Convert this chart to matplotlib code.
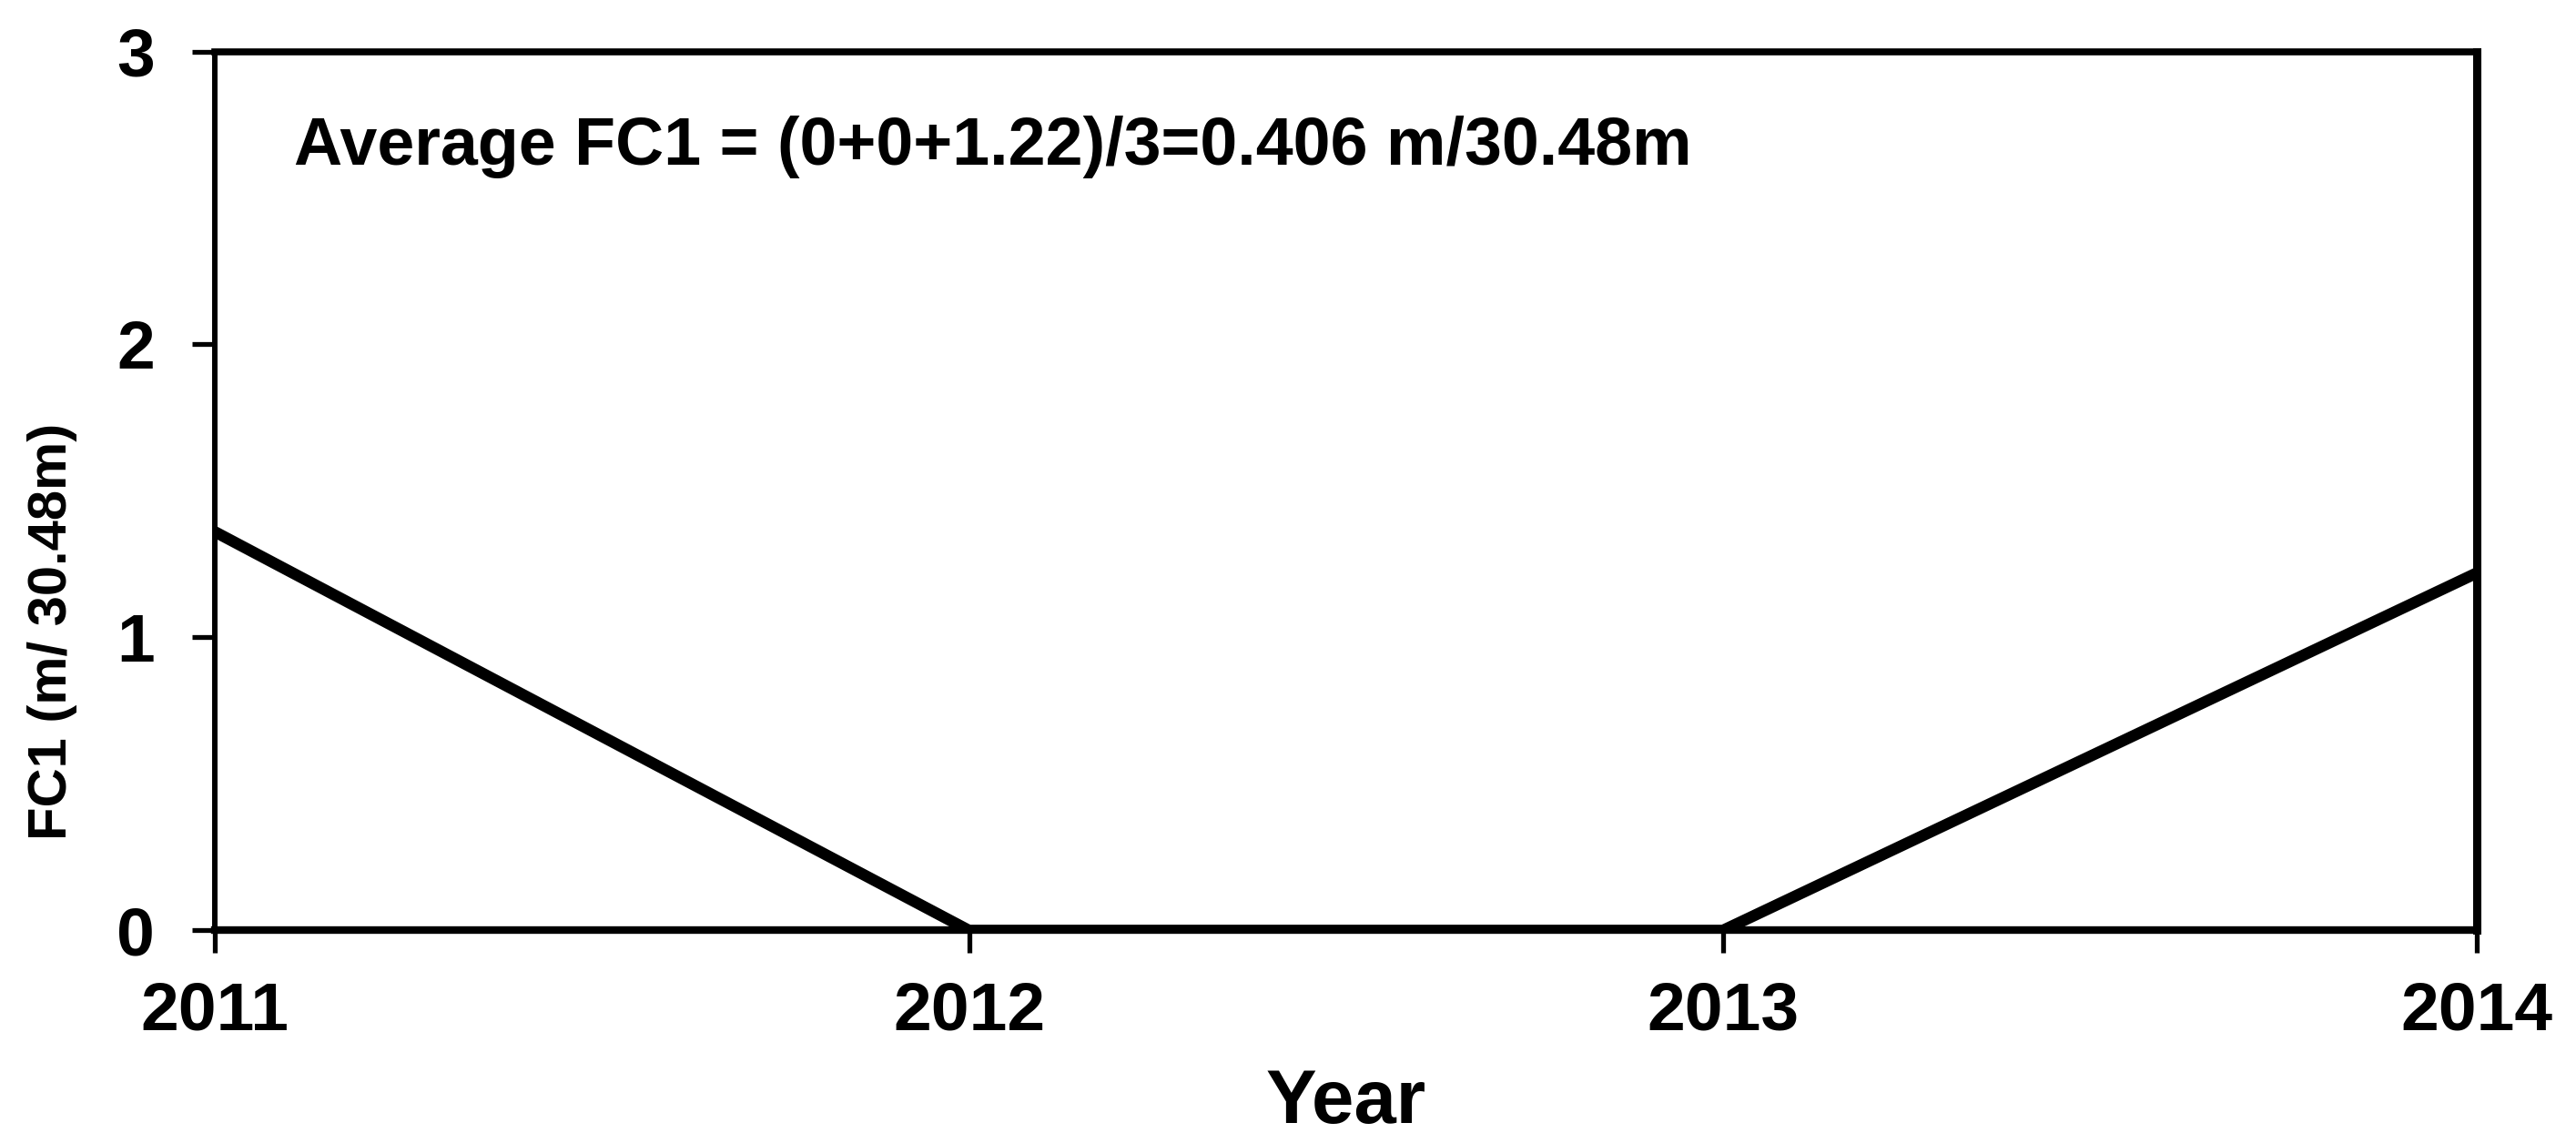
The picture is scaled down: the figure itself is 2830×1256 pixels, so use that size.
import matplotlib
matplotlib.use('Agg')
import matplotlib.pyplot as plt

years = [2011, 2012, 2013, 2014]
fc1 = [1.36, 0.0, 0.0, 1.22]
yticks = [0, 1, 2, 3]
note = 'Average FC1 = (0+0+1.22)/3=0.406 m/30.48m'

plt.rcParams['font.family'] = ['Liberation Sans', 'DejaVu Sans']
plt.rcParams['font.weight'] = 'bold'

fig = plt.figure(figsize=(28.3, 12.56), dpi=100)
ax = fig.add_axes([0.0835, 0.186, 0.878, 0.769])

ax.plot(years, fc1, color='black', linewidth=9, solid_joinstyle='miter')

ax.set_xlim(2011, 2014)
ax.set_ylim(0, 3)
ax.set_xticks(years)
ax.set_yticks(yticks)
ax.tick_params(direction='out', length=18, width=3.8)
ax.tick_params(axis='x', labelsize=54, pad=22)
ax.tick_params(axis='y', labelsize=54, pad=30)
for lab in ax.get_xticklabels() + ax.get_yticklabels():
    lab.set_fontweight('bold')

for side, lw in [('left', 4.3), ('bottom', 6), ('top', 5.5), ('right', 6.5)]:
    ax.spines[side].set_linewidth(lw)

ax.set_xlabel('Year', fontsize=60, fontweight='bold')
ax.xaxis.set_label_coords(0.5, -0.219)
ax.xaxis.label.set_va('baseline')
ax.set_ylabel('FC1 (m/ 30.48m)', fontsize=43, fontweight='bold')
ax.yaxis.set_label_coords(-0.072, 0.34)
ax.yaxis.label.set_va('center')

ax.text(0.035, 0.871, note, transform=ax.transAxes, fontsize=53,
        fontweight='bold', ha='left', va='baseline')

fig.savefig('out.png', dpi=100)
